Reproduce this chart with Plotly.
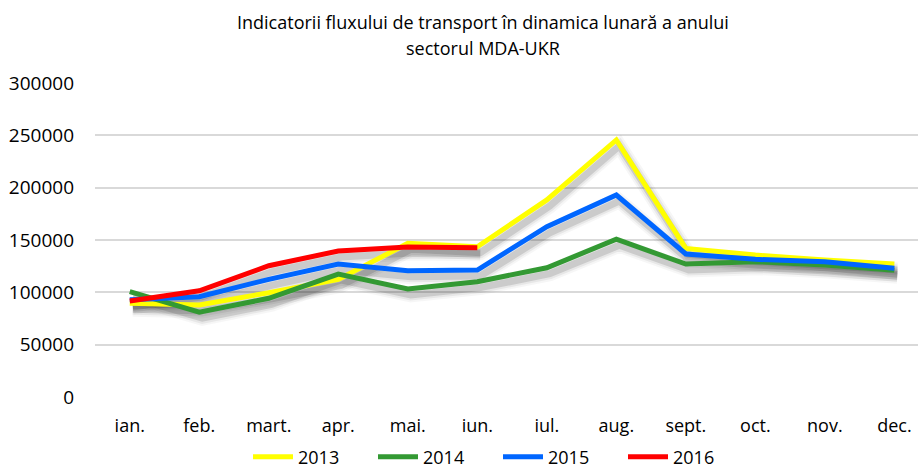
import plotly.graph_objects as go

months = ["ian.", "feb.", "mart.", "apr.", "mai.", "iun.", "iul.", "aug.", "sept.", "oct.", "nov.", "dec."]
y2013 = [89500, 88000, 99600, 112400, 146800, 143600, 188300, 245600, 142000, 135600, 130900, 127000]
y2014 = [100600, 81000, 94300, 117500, 103200, 110200, 123500, 150700, 127000, 129300, 126100, 121000]
y2015 = [93000, 95800, 112400, 127000, 120700, 121300, 162700, 193000, 136600, 131500, 129300, 123000]
y2016 = [91700, 101500, 125400, 139500, 143300, 142700]
series = [("2013", y2013, "#FFFF00"), ("2014", y2014, "#339933"),
          ("2015", y2015, "#0066FF"), ("2016", y2016, "#FF0000")]
yticks = [0, 50000, 100000, 150000, 200000, 250000, 300000]
title_lines = ["Indicatorii fluxului de transport în dinamica lunară a anului", "sectorul MDA-UKR"]

FONT = "Open Sans"
W, H = 918, 468
ML, MR, MT, MB = 95, 0, 83, 71
xr = [-0.5, 11.34]
yr = [0, 300000]
PW, PH = W - ML - MR, H - MT - MB
px_x = PW / (xr[1] - xr[0])
px_y = PH / (yr[1] - yr[0])
dx, dy = 3, 6  # shadow offset in pixels

fig = go.Figure()
# shadows (on base axes, shifted ranges)
for name, vals, col in series:
    for w, a in [(15, 0.035), (11, 0.06), (7, 0.12)]:
        fig.add_trace(go.Scatter(x=months[:len(vals)], y=vals, mode="lines",
                                 line=dict(color=f"rgba(0,0,0,{a})", width=w),
                                 hoverinfo="skip", showlegend=False, xaxis="x", yaxis="y"))
# main lines (on overlay axes)
for name, vals, col in series:
    fig.add_trace(go.Scatter(x=months[:len(vals)], y=vals, mode="lines", name=name,
                             line=dict(color=col, width=5), xaxis="x2", yaxis="y2"))

annotations = []
for t, ypx in zip(title_lines, [22, 48]):
    annotations.append(dict(text=t, xref="paper", yref="paper", x=(482.5 - ML) / PW,
                            y=1 + (MT - ypx) / PH, xanchor="center", yanchor="middle",
                            showarrow=False, font=dict(family=FONT, size=18, color="#000000")))

fig.update_layout(
    width=W, height=H, margin=dict(l=ML, r=MR, t=MT, b=MB, autoexpand=False),
    plot_bgcolor="white", paper_bgcolor="white",
    font=dict(family=FONT, size=18, color="#000000"),
    annotations=annotations,
    xaxis=dict(type="category", categoryorder="array", categoryarray=months,
               range=[xr[0] - dx / px_x, xr[1] - dx / px_x], showgrid=False, showticklabels=False,
               showline=False, zeroline=False, fixedrange=True, automargin=False),
    yaxis=dict(range=[yr[0] + dy / px_y, yr[1] + dy / px_y], showgrid=False, showticklabels=False,
               showline=False, zeroline=False, fixedrange=True, automargin=False),
    xaxis2=dict(type="category", categoryorder="array", categoryarray=months, overlaying="x",
                range=xr, showgrid=False, showline=False, zeroline=False, ticks="", automargin=False,
                tickfont=dict(family=FONT, size=18), ticklabelstandoff=16, fixedrange=True),
    yaxis2=dict(range=yr, overlaying="y", tickvals=yticks, ticktext=[str(v) for v in yticks],
                showgrid=True, gridcolor="#D9D9D9", gridwidth=1.5, zeroline=False, showline=False,
                ticks="", automargin=False, tickfont=dict(family=FONT, size=19), ticklabelstandoff=20,
                fixedrange=True),
    legend=dict(orientation="h", xref="paper", yref="paper", x=(498 - ML) / PW, xanchor="center",
                y=-(457 - (H - MB)) / PH, yanchor="middle", font=dict(family=FONT, size=18),
                entrywidth=70, entrywidthmode="pixels", itemwidth=40, traceorder="normal"),
    showlegend=True,
)
fig.write_html("out.html", post_script="document.body.style.margin='0';",
               config={"displayModeBar": False})
